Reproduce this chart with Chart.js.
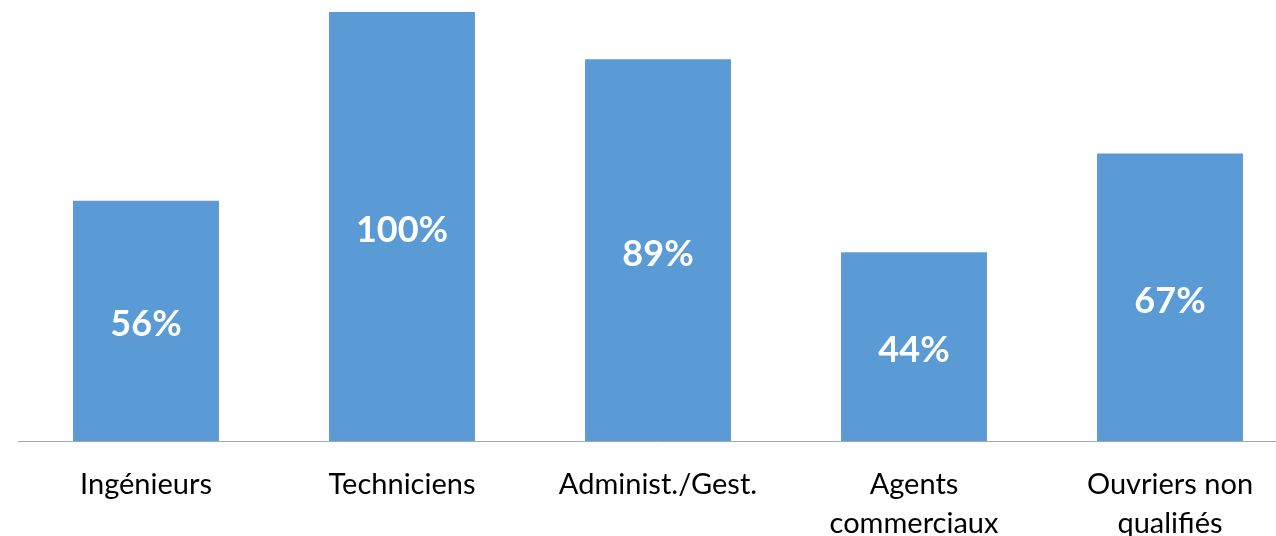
<!DOCTYPE html>
<html>
<head>
<meta charset="utf-8">
<script src="https://cdn.jsdelivr.net/npm/chart.js@4/dist/chart.umd.min.js"></script>
<style>
  html, body { margin: 0; padding: 0; background: #fff; overflow: hidden; }
  #wrap { width: 1300px; height: 536px; }
</style>
</head>
<body>
<div id="wrap"><canvas id="chart" width="1300" height="536"></canvas></div>
<script>
const categories = ['Ingénieurs', 'Techniciens', 'Administ./Gest.', ['Agents', 'commerciaux'], ['Ouvriers non', 'qualifiés']];
const values = [56, 100, 89, 44, 67];

// draws the % value in the middle of each bar
const barLabels = {
  id: 'barLabels',
  afterDatasetsDraw(chart) {
    const ctx = chart.ctx;
    const meta = chart.getDatasetMeta(0);
    ctx.save();
    ctx.fillStyle = '#ffffff';
    ctx.font = 'bold 36px Lato';
    ctx.textAlign = 'center';
    ctx.textBaseline = 'middle';
    meta.data.forEach((bar, i) => {
      const y = (bar.y + bar.base) / 2;
      ctx.fillText(values[i] + '%', bar.x, y + 4);
    });
    ctx.restore();
  }
};

new Chart(document.getElementById('chart'), {
  type: 'bar',
  data: {
    labels: categories,
    datasets: [{
      data: values,
      backgroundColor: '#5B9BD5',
      barPercentage: 0.57,
      categoryPercentage: 1
    }]
  },
  options: {
    responsive: false,
    animation: false,
    layout: { padding: { top: 12, left: 18, right: 2, bottom: 0 } },
    plugins: { legend: { display: false }, tooltip: { enabled: false } },
    scales: {
      y: { display: false, min: 0, max: 100 },
      x: {
        grid: { display: false },
        border: { display: true, color: '#A6A6A6', width: 1 },
        ticks: {
          color: '#000',
          padding: 16,
          maxRotation: 0,
          autoSkip: false,
          font: { family: 'Lato', size: 29, lineHeight: 1.35 }
        },
        afterFit(scale) { scale.height = 95; }
      }
    }
  },
  plugins: [barLabels]
});
</script>
</body>
</html>
